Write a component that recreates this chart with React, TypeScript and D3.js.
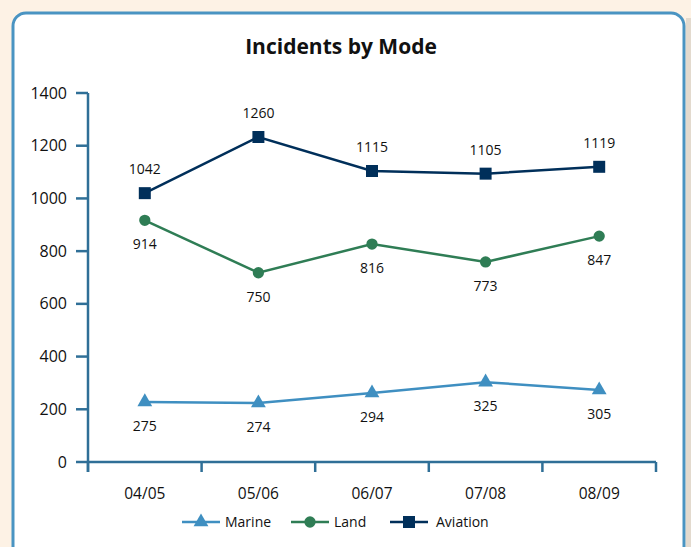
import * as d3 from "d3";

const periods = ["04/05", "05/06", "06/07", "07/08", "08/09"];
const yTicks = [0, 200, 400, 600, 800, 1000, 1200, 1400];

// plotted positions
const marineValues = [228, 224, 262, 303, 273];
const landValues = [917, 718, 827, 759, 857];
const aviationValues = [1020, 1233, 1104, 1094, 1120];

// printed labels
const marineLabels = [275, 274, 294, 325, 305];
const landLabels = [914, 750, 816, 773, 847];
const aviationLabels = [1042, 1260, 1115, 1105, 1119];

const series = [
  { name: "Marine", values: marineValues, labels: marineLabels, color: "#3f8fc1", symbol: d3.symbolTriangle, size: 95, labelDy: 29 },
  { name: "Land", values: landValues, labels: landLabels, color: "#2f7d55", symbol: d3.symbolCircle, size: 100, labelDy: 29 },
  { name: "Aviation", values: aviationValues, labels: aviationLabels, color: "#002f5a", symbol: d3.symbolSquare, size: 144, labelDy: -19 },
];

const font = "'Open Sans', sans-serif";
const axisColor = "#2f6f97";

export default function App() {
  const width = 691;
  const height = 547;
  const left = 88;
  const right = 656;
  const top = 93;
  const bottom = 462;

  const x = d3.scaleBand<string>().domain(periods).range([left, right]).padding(0);
  const y = d3.scaleLinear().domain([0, 1400]).range([bottom, top]);
  const cx = (p: string) => (x(p) ?? 0) + x.bandwidth() / 2;

  const legendItems = [
    { s: series[0], x0: 182, tx: 225 },
    { s: series[1], x0: 291, tx: 334 },
    { s: series[2], x0: 390, tx: 436 },
  ];

  return (
    <svg width={width} height={height} style={{ position: "absolute", left: 0, top: 0 }} fontFamily={font}>
      <rect x={0} y={0} width={width} height={height} fill="#fdf2e5" />
      <rect x={686} y={18} width={5} height={540} fill="#c9c2b8" opacity={0.5} />
      <rect x={13} y={13} width={671} height={560} rx={13} fill="#ffffff" stroke="#4a94c2" strokeWidth={3} />

      <text x={341} y={54} textAnchor="middle" fontSize={21} fontWeight="bold" fill="#111">
        Incidents by Mode
      </text>

      {/* y axis */}
      <line x1={left} x2={left} y1={top} y2={bottom + 10} stroke={axisColor} strokeWidth={2.5} />
      {yTicks.map((t) => (
        <g key={t}>
          <line x1={left - 12} x2={left} y1={y(t)} y2={y(t)} stroke={axisColor} strokeWidth={2.5} />
          <text x={67} y={y(t) + 5.5} textAnchor="end" fontSize={16} fill="#111">
            {t}
          </text>
        </g>
      ))}

      {/* x axis */}
      <line x1={left} x2={right} y1={bottom} y2={bottom} stroke={axisColor} strokeWidth={2.5} />
      {[...periods.map((p) => x(p) ?? 0), right].map((bx, i) => (
        <line key={i} x1={bx} x2={bx} y1={bottom} y2={bottom + 10} stroke={axisColor} strokeWidth={2.5} />
      ))}
      {periods.map((p) => (
        <text key={p} x={cx(p)} y={499} textAnchor="middle" fontSize={15.5} fill="#111">
          {p}
        </text>
      ))}

      {series.map((s) => {
        const line = d3
          .line<number>()
          .x((_, i) => cx(periods[i]))
          .y((v) => y(v));
        const sym = d3.symbol().type(s.symbol).size(s.size)();
        return (
          <g key={s.name}>
            <path d={line(s.values) ?? ""} fill="none" stroke={s.color} strokeWidth={2.5} />
            {s.values.map((v, i) => (
              <path key={i} d={sym ?? ""} transform={`translate(${cx(periods[i])},${y(v)})`} fill={s.color} />
            ))}
            {s.values.map((v, i) => (
              <text key={`l${i}`} x={cx(periods[i])} y={y(v) + s.labelDy} textAnchor="middle" fontSize={14} fill="#111">
                {s.labels[i]}
              </text>
            ))}
          </g>
        );
      })}

      {/* legend */}
      {legendItems.map(({ s, x0, tx }) => {
        const sym = d3.symbol().type(s.symbol).size(s.size)();
        return (
          <g key={s.name}>
            <line x1={x0} x2={x0 + 38} y1={522} y2={522} stroke={s.color} strokeWidth={2.5} />
            <path d={sym ?? ""} transform={`translate(${x0 + 19},522)`} fill={s.color} />
            <text x={tx} y={527} fontSize={14} fill="#111">
              {s.name}
            </text>
          </g>
        );
      })}
    </svg>
  );
}
